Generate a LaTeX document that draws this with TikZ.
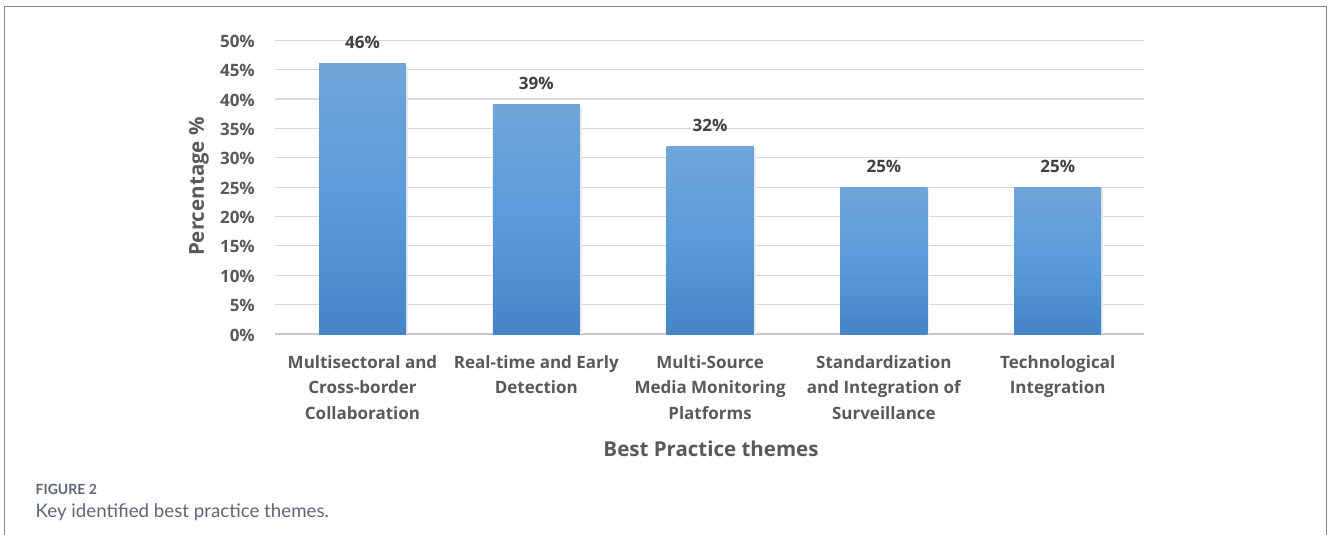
\documentclass[tikz,border=0pt]{standalone}
\usepackage{fontspec}
\setmainfont{Open Sans}
\newfontfamily\capfont{Lato}
\definecolor{gridc}{HTML}{D9D9D9}
\definecolor{axisc}{HTML}{C8C8C8}
\definecolor{txtc}{HTML}{595959}
\definecolor{valc}{HTML}{404040}
\definecolor{framec}{HTML}{80868E}
\definecolor{bartop}{HTML}{70A5DA}
\definecolor{barmid}{HTML}{5A9BDA}
\definecolor{barbot}{HTML}{4485C7}
\definecolor{capc}{HTML}{5F6673}
\begin{document}
\begin{tikzpicture}[x=1pt,y=-1pt,
  ticklab/.style={anchor=east,inner sep=0pt,text=txtc,font=\fontsize{17}{20}\selectfont\bfseries},
  vallab/.style={inner sep=0pt,text=valc,font=\fontsize{17}{20}\selectfont\bfseries},
  catlab/.style={anchor=north,inner sep=0pt,align=center,text=txtc,font=\fontsize{17}{25.5}\selectfont\bfseries},
  titlab/.style={inner sep=0pt,text=txtc,font=\fontsize{20.5}{24}\selectfont\bfseries},
  barbox/.style={top color=bartop,bottom color=barbot,middle color=barmid,draw=none},
  grid/.style={draw=gridc,line width=1.2pt}]
\useasboundingbox (0,0) rectangle (1328,535);
% frame
\draw[framec,line width=1.5pt] (4.5,535) -- (4.5,6.5) -- (1326.5,6.5) -- (1326.5,535);
% gridlines
\foreach \p in {5,10,...,50}{
  \pgfmathsetmacro\yy{334-5.874*\p}
  \draw[grid] (275,\yy) -- (1144,\yy);
}
\draw[axisc,line width=1.4pt] (275,334) -- (1144,334);
% tick labels
\foreach \p in {0,5,...,50}{
  \pgfmathsetmacro\yy{335-5.874*\p}
  \node[ticklab] (t\p) at (255,\yy) {\p\%};
}
% bars
\foreach \i/\v/\c in {1/46/362.5,2/39/536.3,3/32/710.1,4/25/883.9,5/25/1057.7}{
  \pgfmathsetmacro\yt{334-5.874*\v}
  \pgfmathsetmacro\ys{\yt+2}
  \pgfmathsetmacro\yl{\yt-21}
  \pgfmathsetmacro\xa{\c-43.5}
  \pgfmathsetmacro\xb{\c+43.5}
  \pgfmathsetmacro\xc{\c-41.5}
  \pgfmathsetmacro\xd{\c+45.5}
  \fill[black!8] (\xc,\ys) rectangle (\xd,334);
  \shade[barbox] (\xa,\yt) rectangle (\xb,334);
  \node[vallab] (v\i) at (\c,\yl) {\v\%};
}
% category labels
\node[catlab] (c1) at (362.5,355) {Multisectoral and\\Cross-border\\Collaboration};
\node[catlab] (c2) at (536.3,355) {Real-time and Early\\Detection};
\node[catlab] (c3) at (710.1,355) {Multi-Source\\Media Monitoring\\Platforms};
\node[catlab] (c4) at (883.9,355) {Standardization\\and Integration of\\Surveillance};
\node[catlab] (c5) at (1057.7,355) {Technological\\Integration};
% axis titles
\node[titlab] (xt) at (711,448.5) {Best Practice themes};
\node[titlab,rotate=90] (yt) at (199,186.5) {Percentage \%};
% caption
\node[anchor=base west,inner sep=0pt,text=capc,font=\capfont\fontsize{14}{16}\selectfont\bfseries] (fig) at (35.5,494) {FIGURE 2};
\node[anchor=base west,inner sep=0pt,text=capc,font=\capfont\fontsize{18.7}{22}\selectfont] (cap) at (35.5,517.5) {Key identified best practice themes.};
\end{tikzpicture}
\end{document}
